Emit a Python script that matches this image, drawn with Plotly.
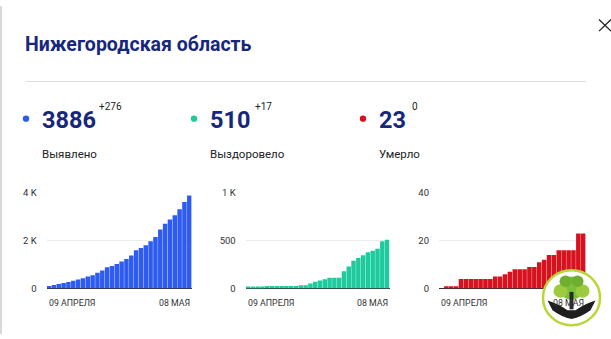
import plotly.graph_objects as go

W, H = 611, 339

dates = ["09.04", "10.04", "11.04", "12.04", "13.04", "14.04", "15.04", "16.04", "17.04", "18.04",
         "19.04", "20.04", "21.04", "22.04", "23.04", "24.04", "25.04", "26.04", "27.04", "28.04",
         "29.04", "30.04", "01.05", "02.05", "03.05", "04.05", "05.05", "06.05", "07.05", "08.05"]

cases = [107, 150, 190, 230, 270, 320, 375, 430, 500, 550,
         660, 750, 885, 940, 1020, 1130, 1235, 1380, 1600, 1690,
         1810, 1975, 2150, 2470, 2700, 2885, 3060, 3315, 3610, 3886]

recovered = [20, 20, 20, 20, 27, 27, 27, 27, 27, 27,
             27, 33, 33, 53, 70, 83, 97, 113, 113, 113,
             180, 230, 290, 318, 347, 380, 395, 415, 493, 510]

deaths = [0, 1, 1, 1, 4, 4, 4, 4, 4, 4,
          4, 5, 5, 6, 7, 8, 8, 8, 9, 9,
          11, 12, 14, 14, 16, 16, 16, 16, 23, 23]

title = "Нижегородская область"
stat_totals = ["3886", "510", "23"]
stat_deltas = ["+276", "+17", "0"]
stat_labels = ["Выявлено", "Выздоровело", "Умерло"]
y_ticks = [[0, 2000, 4000], [0, 500, 1000], [0, 20, 40]]
y_ticktext = [["0", "2 K", "4 K"], ["0", "500", "1 K"], ["0", "20", "40"]]
x_first_label = "09 АПРЕЛЯ"
x_last_label = "08 МАЯ"

colors = ["#2e5cf2", "#1dcb9d", "#d7111d"]
navy = "#17277c"

def px(x):
    return x / W

def py(y):
    return 1 - y / H

# chart geometry (pixels)
x_doms = [(46.7, 191.7), (245.7, 389.5), (439.0, 585.7)]
y_top, y_bot = 193, 292
stat_x = [26, 194, 363]
delta_x = [97, 253, 410]

fig = go.Figure()
series = [cases, recovered, deaths]
for i, vals in enumerate(series):
    xa = "x" if i == 0 else f"x{i+1}"
    ya = "y" if i == 0 else f"y{i+1}"
    fig.add_trace(go.Bar(x=dates, y=vals, xaxis=xa, yaxis=ya,
                         marker=dict(color=colors[i], line=dict(width=0)),
                         hoverinfo="skip", showlegend=False))

layout = dict(
    width=W, height=H, margin=dict(l=0, r=0, t=0, b=0),
    paper_bgcolor="white", plot_bgcolor="white",
    bargap=0.07, font=dict(family="Roboto", color="#222"),
    showlegend=False,
)
for i in range(3):
    sfx = "" if i == 0 else str(i + 1)
    layout["xaxis" + sfx] = dict(
        domain=[px(x_doms[i][0]), px(x_doms[i][1])],
        anchor="y" + sfx, type="category", range=[-0.5, 29.5],
        showticklabels=False, showgrid=False, zeroline=False, showline=False, ticks="",
        fixedrange=True)
    layout["yaxis" + sfx] = dict(
        domain=[py(y_bot), py(y_top)], anchor="x" + sfx,
        range=[0, y_ticks[i][-1]], tickvals=y_ticks[i], ticktext=y_ticktext[i],
        showgrid=True, gridcolor="#ececec", gridwidth=1,
        zeroline=True, zerolinecolor="#333", zerolinewidth=1,
        showline=False, ticks="", ticklabelstandoff=9,
        tickfont=dict(size=9.5, color="#333", family="Roboto"), fixedrange=True)

annotations = []
shapes = []

# title
annotations.append(dict(text=f"<b>{title}</b>", x=px(22.5), y=py(39.5), xref="paper", yref="paper",
                        xanchor="left", yanchor="middle", showarrow=False,
                        font=dict(size=19.5, color=navy, family="Roboto")))
# separator
shapes.append(dict(type="line", xref="paper", yref="paper", x0=px(26), x1=px(586),
                   y0=py(78), y1=py(78), line=dict(color="#dedede", width=1)))
# close cross
shapes.append(dict(type="line", xref="paper", yref="paper", x0=px(599), x1=px(611),
                   y0=py(14), y1=py(26), line=dict(color="#222", width=1.3)))
shapes.append(dict(type="line", xref="paper", yref="paper", x0=px(611), x1=px(599),
                   y0=py(14), y1=py(26), line=dict(color="#222", width=1.3)))
# left border
shapes.append(dict(type="line", xref="paper", yref="paper", x0=px(1), x1=px(1),
                   y0=0, y1=1, line=dict(color="#d8d8d8", width=2)))

for i in range(3):
    cx = stat_x[i]
    shapes.append(dict(type="circle", xref="paper", yref="paper",
                       x0=px(cx - 3.2), x1=px(cx + 3.2), y0=py(116.5 + 3.2), y1=py(116.5 - 3.2),
                       fillcolor=colors[i], line=dict(width=0)))
    annotations.append(dict(text=f"<b>{stat_totals[i]}</b>", x=px(cx + 13.5), y=py(117.5),
                            xref="paper", yref="paper", xanchor="left", yanchor="middle",
                            showarrow=False, font=dict(size=23.5, color=navy, family="Roboto")))
    annotations.append(dict(text=stat_deltas[i], x=px(delta_x[i]),
                            y=py(104), xref="paper", yref="paper", xanchor="left", yanchor="middle",
                            showarrow=False, font=dict(size=10, color="#222", family="Roboto")))
    annotations.append(dict(text=stat_labels[i], x=px(cx + 13.5), y=py(152.5),
                            xref="paper", yref="paper", xanchor="left", yanchor="middle",
                            showarrow=False, font=dict(size=11.5, color="#222", family="Roboto")))
    sfx = "" if i == 0 else str(i + 1)
    annotations.append(dict(text=x_first_label, x=-0.5, y=py(307), xref="x" + sfx, yref="paper",
                            xanchor="left", yanchor="middle", showarrow=False,
                            font=dict(size=8.8, color="#333", family="Roboto")))
    annotations.append(dict(text=x_last_label, x=29.5, y=py(307), xref="x" + sfx, yref="paper",
                            xanchor="right", yanchor="middle", showarrow=False,
                            font=dict(size=8.8, color="#333", family="Roboto")))

# watermark logo (approximation)
lx, ly, lr = 571.5, 301.5, 28.5
shapes.append(dict(type="circle", xref="paper", yref="paper",
                   x0=px(lx - lr), x1=px(lx + lr), y0=py(ly + lr), y1=py(ly - lr),
                   fillcolor="white", line=dict(color="#b9d63a", width=2.5), layer="above"))
for (dx, dy, r, c) in [(0, -10, 12, "#7cbf3b"), (-11, -7, 7, "#9ccc3e"), (11, -7, 7, "#9ccc3e"),
                       (-6, -17, 6, "#6fae2f"), (6, -17, 6, "#6fae2f")]:
    shapes.append(dict(type="circle", xref="paper", yref="paper",
                       x0=px(lx + dx - r), x1=px(lx + dx + r), y0=py(ly + dy + r), y1=py(ly + dy - r),
                       fillcolor=c, line=dict(width=0), layer="above"))
shapes.append(dict(type="path", xref="paper", yref="paper", layer="above",
                   path=f"M {px(lx-2)},{py(ly+12)} L {px(lx+2)},{py(ly+12)} L {px(lx+2)},{py(ly-6)} L {px(lx-2)},{py(ly-6)} Z",
                   fillcolor="#2a2a2a", line=dict(width=0)))
shapes.append(dict(type="path", xref="paper", yref="paper", layer="above",
                   path=(f"M {px(lx-24)},{py(ly+3)} Q {px(lx-14)},{py(ly+6)} {px(lx-4)},{py(ly+13)} "
                         f"L {px(lx+4)},{py(ly+13)} Q {px(lx+14)},{py(ly+6)} {px(lx+24)},{py(ly+3)} "
                         f"L {px(lx+19)},{py(ly+13)} Q {px(lx+10)},{py(ly+20)} {px(lx)},{py(ly+22)} "
                         f"Q {px(lx-10)},{py(ly+20)} {px(lx-19)},{py(ly+13)} Z"),
                   fillcolor="#1e1e1e", line=dict(width=0)))

layout["annotations"] = annotations
layout["shapes"] = shapes
fig.update_layout(**layout)
fig.write_html("out.html")
